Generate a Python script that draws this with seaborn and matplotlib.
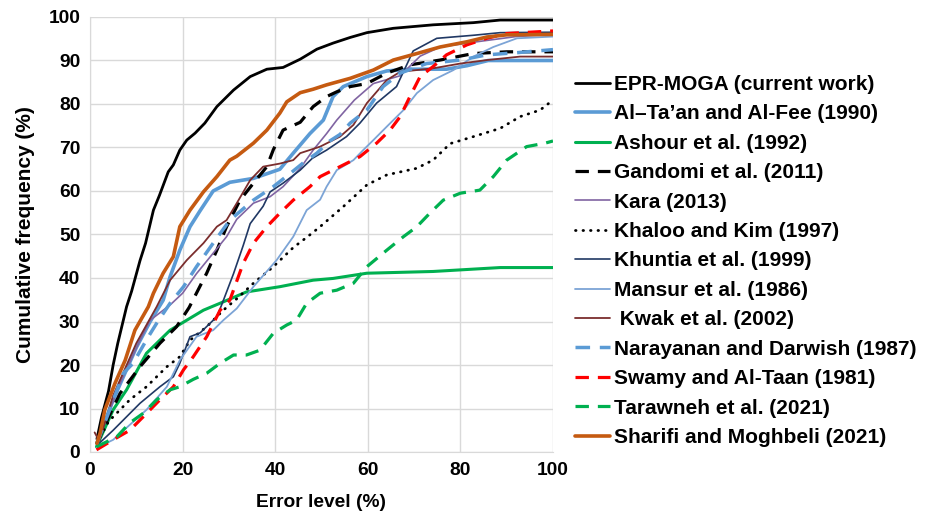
import matplotlib
matplotlib.use("Agg")
import matplotlib.pyplot as plt
import seaborn as sns
import pandas as pd

# ---------------- data ----------------
labels = ["EPR-MOGA (current work)", "Al\u2013Ta\u2019an and Al-Fee (1990)", "Ashour et al. (1992)",
          "Gandomi et al. (2011)", "Kara (2013)", "Khaloo and Kim (1997)", "Khuntia et al. (1999)",
          "Mansur et al. (1986)", " Kwak et al. (2002)", "Narayanan and Darwish (1987)",
          "Swamy and Al-Taan (1981)", "Tarawneh et al. (2021)", "Sharifi and Moghbeli (2021)"]

epr_x = [1.5, 2.5, 4, 5, 6, 7.9, 9, 10.8, 12, 13.7, 15, 16.9, 18, 19.4, 20.9, 22.7, 24.8, 27.4, 31, 34.6,
         38.2, 41.7, 45.4, 49, 52.5, 56.2, 59.8, 65.5, 74.1, 82.8, 88.6, 100]
epr_y = [3, 8, 14, 20, 25, 33.4, 37, 44, 48, 55.6, 59, 64.4, 66, 69.4, 71.7, 73.3, 75.6, 79.4, 83.2, 86.3,
         88, 88.4, 90.3, 92.6, 94, 95.3, 96.4, 97.4, 98.2, 98.7, 99.3, 99.3]

altaan_x = [1.5, 5, 10, 13, 15.8, 17.3, 19.4, 21.6, 23.8, 26.6, 30.2, 35.3, 41, 43.9, 47.5, 50.4, 52.5, 54.7,
            59.8, 64.1, 69.1, 77, 81.4, 86, 100]
altaan_y = [2, 12, 24, 30, 34.9, 40.3, 46.4, 51.8, 55.5, 60, 62, 62.9, 65, 68.7, 73.2, 76.3, 81.7, 84,
            86.3, 87.6, 88, 88, 88.8, 90, 90]

ashour_x = [1.4, 5, 7.9, 12.2, 17.3, 20.9, 24.5, 28.1, 33.8, 41, 48.2, 52.5, 59.8, 74.1, 88.6, 100]
ashour_y = [1.2, 9.7, 14.3, 22.7, 28, 30.3, 32.6, 34.2, 36.8, 38, 39.5, 39.9, 41.1, 41.5, 42.4, 42.4]

gandomi_x = [1.5, 4, 6.5, 10.8, 15.1, 18.7, 21.4, 25.2, 27.4, 29.5, 32.4, 35.3, 38.2, 39.6, 41.7, 45.4, 48.2,
             51.1, 53.3, 56.2, 59.8, 64.1, 69.1, 75.6, 82.8, 90, 100]
gandomi_y = [2, 8, 13.5, 19.6, 25, 28.8, 33.2, 41.1, 46.4, 51.8, 57.9, 61.8, 65.6, 69.5, 74, 75.8, 79.4,
             81.7, 82.8, 84, 84.7, 87.1, 89, 90.1, 91.6, 92, 92]

kara_x = [1.5, 2.9, 6.5, 10.8, 13, 17.3, 20, 23, 26.6, 29.5, 31.7, 35.3, 38.9, 41.7, 45.4, 48.2, 51.1, 53.3,
          57.1, 61.2, 67, 71.3, 75.6, 84.2, 92, 100]
kara_y = [2, 5.8, 15.8, 25.7, 30.3, 33.8, 36.5, 41, 45.7, 49.5, 53.5, 57.2, 58.7, 61, 65.2, 69.4, 73.2, 76.3,
          80.9, 84.7, 86.5, 91, 93.1, 94.4, 95.5, 96]

khaloo_x = [1.5, 4, 8.6, 12.2, 16.6, 19.4, 21.6, 25.2, 28.8, 32, 35.3, 39.6, 43.9, 47, 49.7, 54.7, 59.8,
            64.1, 70.5, 74.1, 77.8, 82.8, 88.6, 92.9, 97.2, 100]
khaloo_y = [2, 7, 12, 15, 19.6, 21.9, 25.7, 28.8, 32.6, 35.5, 38.8, 42.6, 47, 49.5, 51.8, 56.4, 61.4,
            63.7, 65.2, 67.1, 70.9, 72.5, 74.4, 77.1, 78.6, 80.9]

khuntia_x = [1.5, 5, 10.8, 15.1, 18, 19.4, 21.6, 23.8, 27.4, 28.5, 31, 33.1, 34.6, 37.4, 38.9, 41.7, 45.4,
             48, 51.1, 55.4, 58.3, 61.9, 66.2, 69.8, 74.9, 82.8, 88.6, 100]
khuntia_y = [1.5, 5, 11.2, 15, 17.3, 20.4, 26.5, 27.4, 31.1, 34, 41, 47.5, 52.5, 56.5, 59.8, 61.8, 64.8,
             67.5, 69.4, 72.5, 75.6, 80.2, 84, 92.2, 95.1, 95.8, 96.4, 96.5]

mansur_x = [1.5, 5, 12.2, 16.6, 19.4, 23, 26.6, 28.8, 31.7, 35.3, 40.3, 43.9, 46.8, 49.7, 51.1, 53.3, 56.9,
            59, 61.2, 64.1, 67.7, 70.6, 74.1, 78.5, 82.8, 87.1, 92.2, 100]
mansur_y = [1, 2.8, 9.7, 15, 21.1, 26.5, 28, 30.3, 33, 38, 44.1, 49.5, 55.6, 58, 61, 64.8, 67.1,
            69.4, 71.7, 74.8, 78.6, 82.5, 85.5, 87.8, 90.9, 93.1, 95.1, 95.5]

kwak_x = [1, 2, 5, 10, 14.4, 17.3, 20.9, 24.5, 27.4, 29.5, 31.7, 34.6, 37.4, 41, 43.9, 45.4, 49.7, 54,
          56.9, 59.8, 64.1, 67, 74.1, 80, 85.7, 92.9, 100]
kwak_y = [4.5, 2.5, 13, 25, 33.4, 39.5, 44.1, 48, 51.8, 53.3, 57.2, 62.5, 65.6, 66.3, 67.1, 68.7, 70.2, 72.5,
          75.2, 80.2, 85.5, 87.4, 88.2, 89.3, 90.1, 90.9, 90.9]

naray_x = [1.5, 4, 7.2, 9.3, 12.6, 14.4, 17.3, 20.2, 23, 26.6, 30.2, 35.3, 39.6, 43.2, 46.1, 49, 51.8, 54,
           56.2, 59.8, 63.3, 67, 72.7, 80, 85.7, 92.2, 100]
naray_y = [2, 9, 18.1, 20.4, 26.5, 29.6, 34.2, 38, 42.6, 48, 53.3, 57.9, 61, 64, 66.5, 68.7, 71.5, 73,
           75.6, 78.6, 84, 87.1, 89.3, 90.1, 91.3, 91.8, 92.5]

swamy_x = [1.4, 5, 8.6, 11.5, 15.1, 18, 20.2, 22.3, 25.2, 28.1, 30.2, 33.1, 35.3, 38.2, 41, 43.9, 47.5,
           49.7, 54, 58.3, 61.9, 64.8, 67, 69.1, 71.3, 74.1, 77, 81.4, 85.7, 90, 100]
swamy_y = [0.5, 2.8, 5, 8.1, 12, 15, 18.9, 21.9, 26.5, 32.6, 34.9, 43.4, 48, 51.8, 54.9, 57.9, 61,
           63.3, 65.6, 67.9, 71, 74, 77.1, 81.7, 86.3, 88.6, 91.3, 93.6, 95.1, 96.2, 96.8]

taraw_x = [1.4, 5.8, 8.6, 11.5, 14.4, 17.3, 19.4, 22.3, 25.2, 28.1, 31, 33.8, 36.7, 39.6, 42.5, 44.6, 46.8,
           49.7, 53.3, 56.9, 59.8, 64.1, 67.7, 70.6, 73.4, 76.3, 80, 84.2, 87.1, 90, 94.3, 98.3, 100]
taraw_y = [1.2, 3.5, 6.7, 8.9, 12, 14.3, 15, 16.7, 18.1, 20.4, 22.3, 22.3, 23.4, 27.3, 29.2, 30.3, 34.2,
           36.5, 37.2, 38.8, 42.6, 46.4, 49.5, 51.8, 54.9, 57.9, 59.5, 60.2, 63.3, 67.1, 70.2, 71, 71.5]

sharifi_x = [1.5, 2.2, 3.2, 5.4, 7.6, 9.7, 12.6, 13.7, 15.8, 18, 19.4, 21.6, 24.5, 27.4, 30.2, 31.7, 35.3,
             38.2, 41, 42.5, 45.4, 48.2, 51.1, 56.2, 61.2, 65.5, 70.6, 75.6, 81.4, 85.7, 90, 100]
sharifi_y = [2, 4.4, 9.7, 15.8, 21.1, 28, 33.4, 36.5, 41.1, 44.9, 51.8, 55.6, 59.8, 63.3, 67.1, 68, 71,
             74, 77.9, 80.5, 82.6, 83.4, 84.4, 85.9, 87.8, 90.1, 91.6, 93.1, 94.3, 95.4, 95.9, 96]

xs = [epr_x, altaan_x, ashour_x, gandomi_x, kara_x, khaloo_x, khuntia_x, mansur_x, kwak_x, naray_x,
      swamy_x, taraw_x, sharifi_x]
ys = [epr_y, altaan_y, ashour_y, gandomi_y, kara_y, khaloo_y, khuntia_y, mansur_y, kwak_y, naray_y,
      swamy_y, taraw_y, sharifi_y]

x_ticks = [0, 20, 40, 60, 80, 100]
y_ticks = [0, 10, 20, 30, 40, 50, 60, 70, 80, 90, 100]

# ---------------- styles ----------------
dash = (0, (4.2, 2.8))
dot = (0, (0.2, 2.5))
styles = [
    dict(color="#000000", lw=2.0, ls="-"),
    dict(color="#5B9BD5", lw=2.6, ls="-"),
    dict(color="#00B050", lw=2.2, ls="-"),
    dict(color="#000000", lw=2.3, ls=dash),
    dict(color="#8064A2", lw=1.2, ls="-"),
    dict(color="#000000", lw=2.0, ls=dot),
    dict(color="#203864", lw=1.2, ls="-"),
    dict(color="#7CA4D6", lw=1.3, ls="-"),
    dict(color="#7B2D2D", lw=1.3, ls="-"),
    dict(color="#5B9BD5", lw=2.5, ls=dash),
    dict(color="#FF0000", lw=2.3, ls=dash),
    dict(color="#00B050", lw=2.3, ls=dash),
    dict(color="#C55A11", lw=2.6, ls="-"),
]

sns.set_style("white")
plt.rcParams["font.family"] = ["Liberation Sans", "DejaVu Sans"]
plt.rcParams["font.weight"] = "bold"
plt.rcParams["text.color"] = "black"
plt.rcParams["axes.labelcolor"] = "black"
plt.rcParams["xtick.labelcolor"] = "black"
plt.rcParams["ytick.labelcolor"] = "black"

fig = plt.figure(figsize=(9.32, 5.17), dpi=100)
ax = fig.add_axes([90 / 932, 1 - 452 / 517, (553 - 90) / 932, (452 - 17) / 517])

for lab, x, y, st in zip(labels, xs, ys, styles):
    df = pd.DataFrame({"x": x, "y": y})
    sns.lineplot(data=df, x="x", y="y", ax=ax, color=st["color"], linewidth=st["lw"],
                 linestyle=st["ls"], label=lab, sort=False, estimator=None,
                 dash_capstyle="round" if st["ls"] == dot else "butt")

ax.set_xlim(0, 100)
ax.set_ylim(0, 100)
ax.set_xticks(x_ticks)
ax.set_yticks(y_ticks)
ax.grid(True, color="#D9D9D9", linewidth=1.0)
ax.set_axisbelow(True)
for s in ax.spines.values():
    s.set_visible(False)
ax.spines["bottom"].set_visible(True)
ax.spines["left"].set_visible(True)
ax.spines["bottom"].set_color("#D9D9D9")
ax.spines["left"].set_color("#D9D9D9")
ax.tick_params(axis="both", labelsize=13.8, length=4, color="#D9D9D9", labelcolor="black",
               width=1, pad=3)
for t in ax.get_xticklabels() + ax.get_yticklabels():
    t.set_fontweight("bold")
ax.set_xlabel("Error level (%)", fontsize=13.8, fontweight="bold", labelpad=11, color="black")
ax.set_ylabel("Cumulative frequency (%)", fontsize=15, fontweight="bold", labelpad=10, color="black")

leg = ax.legend(loc="upper left", bbox_to_anchor=(575 / 932, 1 - 75 / 517),
                bbox_transform=fig.transFigure, frameon=False,
                prop={"size": 15, "weight": "bold"}, handlelength=1.7, handletextpad=0.15,
                labelspacing=0.5, borderpad=0, borderaxespad=0, labelcolor="black")

fig.savefig("out.png", dpi=100)
